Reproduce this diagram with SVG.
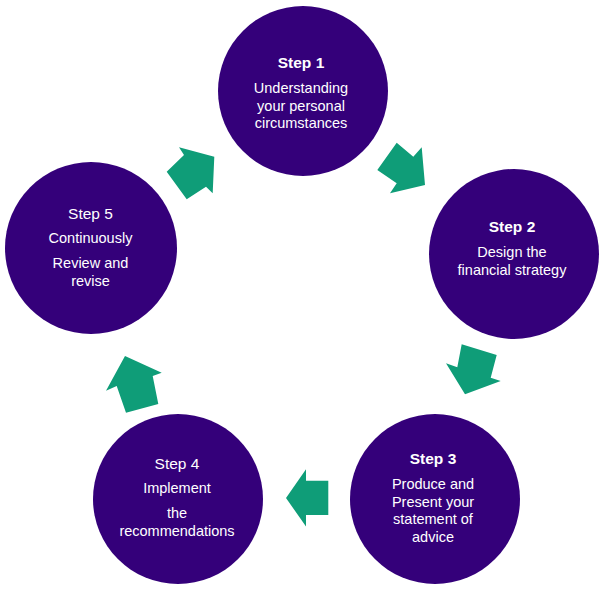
<svg xmlns="http://www.w3.org/2000/svg" width="607" height="597" viewBox="0 0 607 597">
<style>
.node{fill:#34007a}
.arrow{fill:#0f9d78}
text{font-family:"Liberation Sans",Arial,sans-serif;fill:#ffffff;text-anchor:middle;font-size:14.5px}
.title{font-size:15.5px}
.bold{font-weight:bold}
</style>
<rect width="607" height="597" fill="#ffffff"/>
<g id="connectors">
<polygon class="arrow" points="179,147.3 214.3,156.7 212.7,193.3 206,186.7 186.7,199.3 166.7,171.7 184,155"/>
<polygon class="arrow" points="396.7,142.7 413.3,156.7 421.7,147.3 425,185 390,193.3 396.7,183.3 377.3,170"/>
<polygon class="arrow" points="461.7,344.3 496.7,355 490.7,377.7 500.7,381 465,394.3 446,363.3 457.3,367.3"/>
<polygon class="arrow" points="286,498 306,469.3 306,480.7 328.3,480.7 328.3,515 306,515 306,526.5"/>
<polygon class="arrow" points="125,356 161.7,372.7 152.7,376 158.3,404 126,412.7 116.7,386 106,390.7"/>
</g>
<g id="step1">
<circle class="node" cx="303" cy="91" r="85"/>
<text class="title bold" x="301" y="68">Step 1</text>
<text x="301" y="93">Understanding</text>
<text x="301" y="110.5">your personal</text>
<text x="301" y="128">circumstances</text>
</g>
<g id="step2">
<circle class="node" cx="514" cy="254" r="85"/>
<text class="title bold" x="512" y="232">Step 2</text>
<text x="512" y="257">Design the</text>
<text x="512" y="274.5">financial strategy</text>
</g>
<g id="step3">
<circle class="node" cx="435" cy="499" r="85"/>
<text class="title bold" x="433" y="464">Step 3</text>
<text x="433" y="489">Produce and</text>
<text x="433" y="506.5">Present your</text>
<text x="433" y="524">statement of</text>
<text x="433" y="541.5">advice</text>
</g>
<g id="step4">
<circle class="node" cx="178" cy="499" r="85"/>
<text class="title" x="177" y="469">Step 4</text>
<text x="177" y="493">Implement</text>
<text x="177" y="518">the</text>
<text x="177" y="536">recommendations</text>
</g>
<g id="step5">
<circle class="node" cx="91" cy="248" r="86"/>
<text class="title" x="90.5" y="219">Step 5</text>
<text x="90.5" y="243">Continuously</text>
<text x="90.5" y="268">Review and</text>
<text x="90.5" y="286">revise</text>
</g>
</svg>
